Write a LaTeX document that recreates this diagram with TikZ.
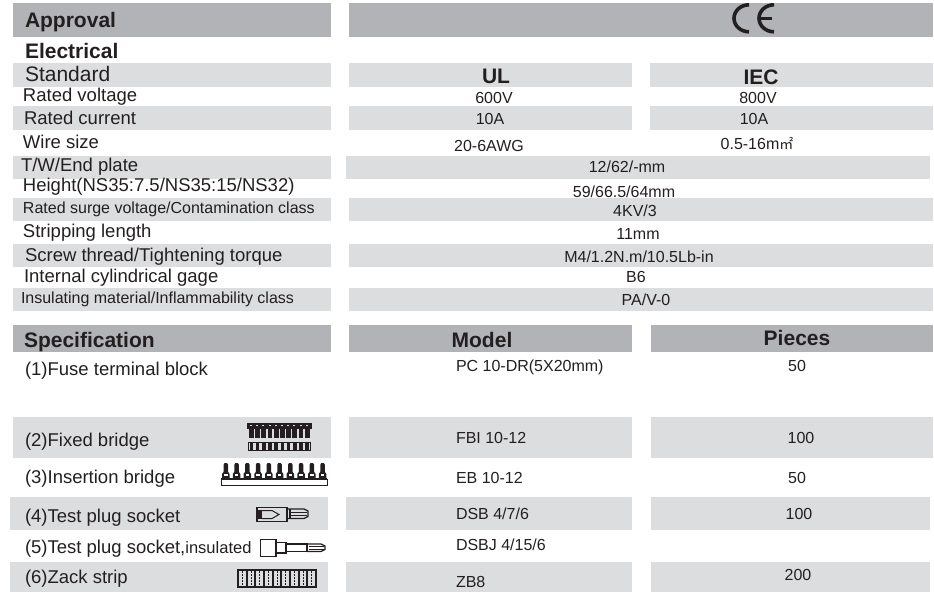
\documentclass[tikz,border=0pt]{standalone}
\usepackage{fontspec}
\setmainfont{Liberation Sans}
\newfontfamily\cjkf{Noto Sans CJK SC}
\definecolor{bardark}{HTML}{B1B3B6}
\definecolor{barlight}{HTML}{DCDDDE}
\definecolor{ink}{HTML}{231F20}
\newcommand{\fs}[1]{\fontsize{#1}{#1}\selectfont}
\tikzset{
 dk/.style={fill=bardark,draw=none},
 lt/.style={fill=barlight,draw=none},
 txt/.style={inner sep=0pt,outer sep=0pt,text=ink,anchor=base west},
 val/.style={inner sep=0pt,outer sep=0pt,text=ink,anchor=base,font=\fs{16}},
 lab/.style={txt,font=\fs{18.5}},
 hd/.style={txt,font=\bfseries\fs{21}},
 hdc/.style={inner sep=0pt,outer sep=0pt,text=ink,anchor=base,font=\bfseries\fs{21}},
 icon/.style={draw=ink,line width=1.3pt,fill=none},
}
\begin{document}
\begin{tikzpicture}[x=1pt,y=-1pt]
\useasboundingbox (0,0) rectangle (934,592);
% bars
\fill[dk] (13,3) rectangle (331,37);
\fill[dk] (349,3) rectangle (933,37);
\fill[lt] (13,63) rectangle (331,87);
\fill[lt] (349,63) rectangle (632,87);
\fill[lt] (650,63) rectangle (933,87);
\fill[lt] (13,106) rectangle (331,130);
\fill[lt] (349,106) rectangle (632,130);
\fill[lt] (650,106) rectangle (933,130);
\fill[lt] (13,156) rectangle (331,179);
\fill[lt] (346,156) rectangle (930,179);
\foreach \a/\b in {198/221,244/267,288/311}{
 \fill[lt] (13,\a) rectangle (331,\b);
 \fill[lt] (349,\a) rectangle (933,\b);
}
\fill[dk] (13,325) rectangle (331,352);
\fill[dk] (349,325) rectangle (632,352);
\fill[dk] (651,325) rectangle (933,352);
\fill[lt] (13,417) rectangle (331,458);
\fill[lt] (349,417) rectangle (632,458);
\fill[lt] (651,417) rectangle (933,458);
\foreach \a/\b in {497/530,562/592}{
 \fill[lt] (10,\a) rectangle (328,\b);
 \fill[lt] (346,\a) rectangle (632,\b);
 \fill[lt] (651,\a) rectangle (930,\b);
}
% left labels
\node[hd] (approval) at (25,27) {Approval};
\node[hd] (electrical) at (25,58) {Electrical};
\node[lab,font=\fs{21}] (standard) at (25,81) {Standard};
\node[lab] (ratedv) at (23,101) {Rated voltage};
\node[lab] (ratedc) at (24,124) {Rated current};
\node[lab] (wire) at (23,148) {Wire size};
\node[lab] (tw) at (21,171) {T/W/End plate};
\node[lab] (height) at (23,191) {Height(NS35:7.5/NS35:15/NS32)};
\node[lab,font=\fs{16}] (surge) at (23,213) {Rated surge voltage/Contamination class};
\node[lab] (strip) at (23,237) {Stripping length};
\node[lab] (screw) at (25,261) {Screw thread/Tightening torque};
\node[lab] (internal) at (24,282) {Internal cylindrical gage};
\node[lab,font=\fs{16}] (insul) at (21,303) {Insulating material/Inflammability class};
\node[hd] (spec) at (24,347) {Specification};
\node[lab] (s1) at (25,375) {(1)Fuse terminal block};
\node[lab] (s2) at (25,446) {(2)Fixed bridge};
\node[lab] (s3) at (25,483) {(3)Insertion bridge};
\node[lab] (s4) at (25,522) {(4)Test plug socket};
\node[lab] (s5) at (25,553) {(5)Test plug socket,{\fs{16.5}insulated}};
\node[lab] (s6) at (25,583) {(6)Zack strip};
% values
\node[hdc] (ul) at (496,83) {UL};
\node[hdc] (iec) at (761,84) {IEC};
\node[val] (v600) at (494,103) {600V};
\node[val] (v800) at (758,103) {800V};
\node[val] (a10l) at (490,124) {10A};
\node[val] (a10r) at (754,124) {10A};
\node[val] (awg) at (489,151) {20-6AWG};
\node[val] (mm) at (757,149) {0.5-16m{\cjkf\fs{14}㎡}};
\node[val] (tvals) at (627,172) {12/62/-mm};
\node[val] (hvals) at (624,197) {59/66.5/64mm};
\node[val] (kv) at (635,216) {4KV/3};
\node[val] (mm11) at (638,239) {11mm};
\node[val] (m4) at (639,262) {M4/1.2N.m/10.5Lb-in};
\node[val] (b6) at (636,282) {B6};
\node[val] (pa) at (646,305) {PA/V-0};
\node[hdc] (model) at (482,347) {Model};
\node[hdc] (pieces) at (797,345) {Pieces};
\node[val,anchor=base west] (pc) at (456,371) {PC 10-DR(5X20mm)};
\node[val] (p1) at (797,371) {50};
\node[val,anchor=base west] (fbi) at (456,443) {FBI 10-12};
\node[val] (p2) at (801,443) {100};
\node[val,anchor=base west] (eb) at (456,483) {EB 10-12};
\node[val] (p3) at (797,483) {50};
\node[val,anchor=base west] (dsb) at (456,519) {DSB 4/7/6};
\node[val] (p4) at (799,519) {100};
\node[val,anchor=base west] (dsbj) at (456,550) {DSBJ 4/15/6};
\node[val,anchor=base west] (zb) at (456,587) {ZB8};
\node[val] (p6) at (798,580) {200};
% CE mark
\draw[ink,line width=3.6pt] (749,4.8) arc[start angle=-90,end angle=-270,x radius=15,y radius=13.5];
\draw[ink,line width=3.6pt] (774,4.8) arc[start angle=-90,end angle=-270,x radius=15,y radius=13.5];
\draw[ink,line width=3pt] (760,18.3) -- (772,18.3);
% (2) fixed bridge icon
\fill[ink] (247,423) rectangle (312,429);
\foreach \i in {0,...,9}{
 \fill[ink] ({249+\i*6.2},429) rectangle ++(4.8,9);
 \fill[barlight] ({250+\i*6.2},424.5) rectangle ++(2,1.3);
 \fill[ink] ({249.6+\i*6.2},442) rectangle ++(3.6,8);
}
\draw[ink,line width=1pt] (248.5,442) rectangle (310.5,450.5);
% (3) insertion bridge icon
\foreach \i in {0,...,9}{
 \fill[ink] ({222+\i*10.75},478) -- ++(0,-4) -- ++(1.6,-2.2) -- ++(0,-7.3) -- ++(1,-1.5) -- ++(2.4,0) -- ++(1,1.5) -- ++(0,7.3) -- ++(1.6,2.2) -- ++(0,4) -- cycle;
 \fill[white] ({224.2+\i*10.75},474) rectangle ++(3.4,1.6);
}
\fill[ink] (221,477.5) rectangle (327,479.5);
\draw[ink,line width=1pt] (221,479.5) rectangle (327,485);
% (4) test plug socket icon
\draw[icon] (257,507.5) rectangle (287,521.5);
\fill[ink] (258,510) rectangle (262,519);
\draw[icon,line width=1pt] (262,510.5) -- (272,510.5) -- (279,514.5) -- (272,518.5) -- (262,518.5);
\draw[icon] (287,509) -- (304,509) -- (308,511) -- (308,516.5) -- (304,518.5) -- (287,518.5);
\draw[icon] (290,509) -- (290,518.5);
\fill[ink] (290,511.5) rectangle (307,512.8);
\fill[ink] (290,515) rectangle (307,516.3);
% (5) insulated socket icon
\draw[icon] (260.5,539.5) rectangle (276,556.5);
\draw[icon] (276,542.5) rectangle (286,553);
\draw[icon] (286,544) rectangle (307,551.5);
\draw[icon] (307,544) -- (321,544) -- (325,546) -- (325,549.5) -- (321,551.5) -- (307,551.5);
\fill[ink] (309,546) rectangle (324,546.9);
\fill[ink] (309,548.8) rectangle (324,549.7);
% (6) zack strip icon
\fill[ink] (237,569) rectangle (317,571);
\fill[ink] (237,585.5) rectangle (317,587.5);
\foreach \i in {0,...,9}{
 \draw[ink,line width=1.9pt] ({238+\i*8.67},570) -- ++(0,16.5);
}
\foreach \i in {0,...,8}{
 \draw[ink,line width=0.9pt,dash pattern=on 1.5pt off 1.5pt] ({242.3+\i*8.67},571) -- ++(0,15);
}
\end{tikzpicture}
\end{document}
